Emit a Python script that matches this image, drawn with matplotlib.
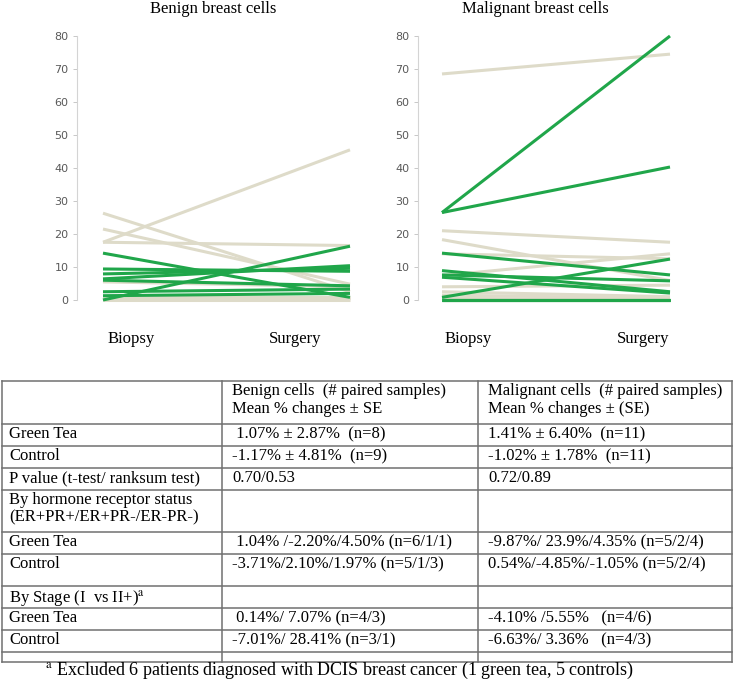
import matplotlib
matplotlib.use("Agg")
import matplotlib.pyplot as plt

plt.rcParams["mathtext.fontset"] = "stix"

# ---------------------------------------------------------------
# Data (percent of positive cells)
# ---------------------------------------------------------------
stages = ["Biopsy", "Surgery"]

# benign cells
benign_ctrl_biopsy = [17.5, 26.3, 21.5, 17.5, 5.5, 1.0, 0.5, 0.2, 0.0]
benign_ctrl_surgery = [45.5, 2.5, 4.8, 16.5, 4.0, 1.0, 0.5, 0.3, 0.0]
benign_tea_biopsy = [14.2, 9.4, 7.9, 6.4, 6.0, 2.5, 1.3, 0.0]
benign_tea_surgery = [0.8, 8.7, 9.6, 10.4, 4.3, 3.3, 2.0, 16.3]

# malignant cells
malig_ctrl_biopsy = [68.5, 21.0, 18.3, 14.0, 7.4, 4.0, 2.5, 1.5, 0.5, 0.0, 0.0]
malig_ctrl_surgery = [74.5, 17.5, 5.9, 12.5, 14.0, 4.5, 1.0, 0.5, 0.2, 0.0, 0.0]
malig_tea_biopsy = [26.5, 26.5, 14.2, 8.9, 7.6, 6.9, 0.8, 0.0, 0.0, 0.0, 0.0]
malig_tea_surgery = [80.0, 40.3, 7.6, 2.5, 5.8, 2.1, 12.4, 0.0, 0.0, 0.0, 0.0]

y_ticks = [0, 10, 20, 30, 40, 50, 60, 70, 80]

# table contents
table_header = ["", "Benign cells  (# paired samples)\nMean % changes ± SE",
                "Malignant cells  (# paired samples)\nMean % changes ± (SE)"]
row_labels = ["Green Tea", "Control", "P value (t-test/ ranksum test)",
              "By hormone receptor status\n(ER+PR+/ER+PR-/ER-PR-)",
              "Green Tea", "Control", r"By Stage (I  vs II+)$^{\rm a}$",
              "Green Tea", "Control", ""]
benign_col = [" 1.07% ± 2.87%  (n=8)", "-1.17% ± 4.81%  (n=9)", "0.70/0.53", "",
              " 1.04% /-2.20%/4.50% (n=6/1/1)", "-3.71%/2.10%/1.97% (n=5/1/3)", "",
              " 0.14%/ 7.07% (n=4/3)", "-7.01%/ 28.41% (n=3/1)", ""]
malig_col = ["1.41% ± 6.40%  (n=11)", "-1.02% ± 1.78%  (n=11)", "0.72/0.89", "",
             "-9.87%/ 23.9%/4.35% (n=5/2/4)", "0.54%/-4.85%/-1.05% (n=5/2/4)", "",
             "-4.10% /5.55%   (n=4/6)", "-6.63%/ 3.36%   (n=4/3)", ""]
footnote = r"$^{\rm a}$ Excluded 6 patients diagnosed with DCIS breast cancer (1 green tea, 5 controls)"

GREEN = "#20a64a"
BEIGE = "#dedbc9"
W, H = 734, 682

fig = plt.figure(figsize=(W / 100, H / 100), dpi=100)


def px_axes(left, top, right, bottom):
    return fig.add_axes([left / W, 1 - bottom / H, (right - left) / W, (bottom - top) / H])


def paired_panel(ax, ctrl_b, ctrl_s, tea_b, tea_s, x0, x1):
    for b, s in zip(ctrl_b, ctrl_s):
        ax.plot([0, 1], [b, s], color=BEIGE, lw=2.2, clip_on=False, solid_capstyle="butt")
    for b, s in zip(tea_b, tea_s):
        ax.plot([0, 1], [b, s], color=GREEN, lw=2.2, clip_on=False, solid_capstyle="butt")
    # lines start/end at given pixel columns, spine stays at the axes' left edge
    span = x1 - x0
    left_px = ax.get_position().x0 * W
    right_px = ax.get_position().x1 * W
    ax.set_xlim(-(x0 - left_px) / span, 1 + (right_px - x1) / span)
    ax.set_ylim(0, 80)
    ax.set_yticks(y_ticks)
    ax.set_xticks([])
    for side in ["top", "right", "bottom"]:
        ax.spines[side].set_visible(False)
    ax.spines["left"].set_color("#d4d4d4")
    ax.spines["left"].set_linewidth(0.8)
    ax.tick_params(axis="y", length=3, width=0.6, color="#bfbfbf", pad=3,
                   labelsize=8, labelcolor="#595959")
    for lab in ax.get_yticklabels():
        lab.set_family(["Liberation Sans Narrow", "DejaVu Sans"])


ax1 = px_axes(77, 36, 360, 300)
paired_panel(ax1, benign_ctrl_biopsy, benign_ctrl_surgery,
             benign_tea_biopsy, benign_tea_surgery, 103, 350)
ax2 = px_axes(418, 36, 680, 300)
paired_panel(ax2, malig_ctrl_biopsy, malig_ctrl_surgery,
             malig_tea_biopsy, malig_tea_surgery, 442, 670)

serif = ["Liberation Serif", "DejaVu Serif"]

# overlay axes in pixel coordinates for titles, labels and the table
ov = fig.add_axes([0, 0, 1, 1], zorder=-1)
ov.set_xlim(0, W)
ov.set_ylim(H, 0)
ov.axis("off")

ov.text(213, 9, "Benign breast cells", ha="center", va="center", family=serif, fontsize=12)
ov.text(535, 9, "Malignant breast cells", ha="center", va="center", family=serif, fontsize=12)
for xc, lab in zip([131, 295], stages):
    ov.text(xc, 339, lab, ha="center", va="center", family=serif, fontsize=12)
for xc, lab in zip([468, 643], stages):
    ov.text(xc, 339, lab, ha="center", va="center", family=serif, fontsize=12)

# table grid
col_x = [2, 222, 478, 732]
row_y = [381, 424, 446, 468, 490, 532, 554, 586, 608, 630, 652, 662]
line_kw = dict(color="#707070", lw=1.1)
for y in row_y:
    ov.plot([col_x[0], col_x[-1]], [y, y], **line_kw)
for x in col_x:
    ov.plot([x, x], [row_y[0], row_y[-1]], **line_kw)

txt_kw = dict(ha="left", va="top", family=serif, fontsize=12, linespacing=1.15)
ov.text(col_x[1] + 10, row_y[0] + 2, table_header[1], **txt_kw)
ov.text(col_x[2] + 10, row_y[0] + 2, table_header[2], **txt_kw)
for i, (lab, b, m) in enumerate(zip(row_labels, benign_col, malig_col)):
    top = row_y[i + 1] + 2
    ov.text(col_x[0] + 7, top, lab, **txt_kw)
    ov.text(col_x[1] + 10, top, b, **txt_kw)
    ov.text(col_x[2] + 10, top, m, **txt_kw)

ov.text(45, 670, footnote, ha="left", va="center", family=serif, fontsize=13)

fig.savefig("out.png", dpi=100)
